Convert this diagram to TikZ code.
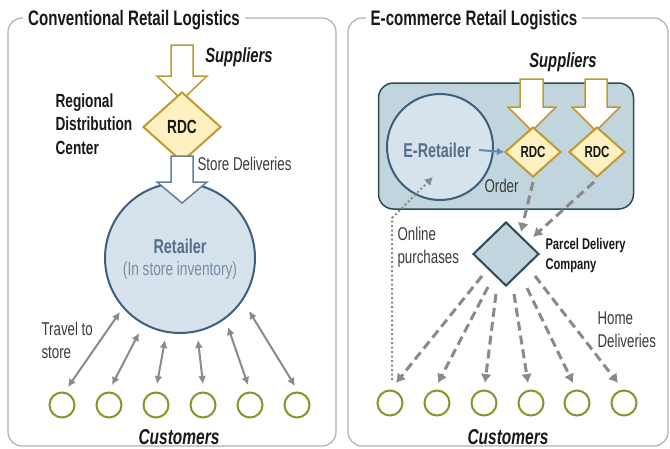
\documentclass[tikz,border=0pt]{standalone}
\usepackage{fontspec}
\setmainfont{Liberation Sans}[FakeStretch=0.72]
\usetikzlibrary{shapes.geometric,arrows.meta}
\definecolor{gold}{HTML}{C09A30}
\definecolor{goldfill}{HTML}{FFF0C2}
\definecolor{steel}{HTML}{3F5F7F}
\definecolor{steelfill}{HTML}{D6E2EC}
\definecolor{boxfill}{HTML}{C0D5DD}
\definecolor{boxedge}{HTML}{2F4A55}
\definecolor{olive}{HTML}{7F9A2A}
\definecolor{arrgray}{HTML}{8A8A8A}
\definecolor{txtgray}{HTML}{3A3A3A}
\definecolor{orderblue}{HTML}{5A8AB5}
\tikzset{
  panel/.style={draw=black!30, line width=1.2pt, rounded corners=14pt},
  paneltitle/.style={fill=white, font=\bfseries\fontsize{21}{24}\selectfont, text=black!90, inner xsep=5pt, inner ysep=1pt},
  heading/.style={font=\bfseries\itshape\fontsize{20.5}{24}\selectfont, text=black!90},
  lbl/.style={font=\fontsize{18.5}{23}\selectfont, text=txtgray, align=left},
  blbl/.style={font=\bfseries\fontsize{19}{23.5}\selectfont, text=black!90, align=left},
  rdc/.style={diamond, draw=gold, fill=goldfill, line width=2pt, minimum width=78pt, minimum height=70pt, inner sep=0pt, font=\bfseries\fontsize{19}{22}\selectfont, text=black!90},
  rdcs/.style={diamond, draw=gold, fill=goldfill, line width=2pt, minimum width=56pt, minimum height=50pt, inner sep=0pt, font=\bfseries\fontsize{16}{18}\selectfont, text=black!90},
  bigcirc/.style={circle, draw=steel, fill=steelfill, line width=2pt, inner sep=0pt},
  cust/.style={circle, draw=olive, fill=white, line width=2pt, minimum size=25pt, inner sep=0pt},
  supply/.style={draw=gold, fill=white, line width=1.5pt, line join=miter},
  deliv/.style={draw=steel!80, fill=white, line width=1.5pt, line join=miter},
  twoway/.style={draw=arrgray, line width=2pt, {Latex[length=8pt,width=8pt]}-{Latex[length=8pt,width=8pt]}},
  dashar/.style={draw=arrgray, line width=3pt, dash pattern=on 9pt off 5pt, -{Latex[length=9pt,width=11pt]}},
  dotar/.style={draw=arrgray, line width=2pt, dash pattern=on 2pt off 2.5pt, -{Latex[length=8pt,width=9pt]}},
}
\begin{document}
\begin{tikzpicture}[x=1pt,y=-1pt]
\useasboundingbox (0,0) rectangle (670,448);
\fill[white] (0,0) rectangle (670,448);
% panels
\draw[panel] (8,18) rectangle (336,446);
\draw[panel] (348,18) rectangle (668,446);
\node[paneltitle] (t1) at (134,20) {Conventional Retail Logistics};
\node[paneltitle] (t2) at (474,20) {E-commerce Retail Logistics};

% ---------- left panel ----------
\node[heading] (sup1) at (239,57) {Suppliers};
\draw[supply] (171,45) -- (193,45) -- (193,76) -- (207,76) -- (182,100) -- (157,76) -- (171,76) -- cycle;
\node[rdc] (rdc1) at (182,127) {RDC};
\node[blbl, anchor=west] (rdclbl) at (52,124) {Regional\\Distribution\\Center};
\node[bigcirc, minimum size=150pt] (ret) at (180,258) {};
\draw[deliv] (171,156) -- (193,156) -- (193,182) -- (207,182) -- (182,203) -- (157,182) -- (171,182) -- cycle;
\node[lbl, anchor=west] (sd) at (194,164) {Store Deliveries};
\node[font=\bfseries\fontsize{20}{24}\selectfont, text=steel!90] (retl) at (180,246) {Retailer};
\node[font=\fontsize{19}{23}\selectfont, text=steel!70] (retl2) at (180,271) {(In store inventory)};
\node[lbl, anchor=west] (travel) at (38,340) {Travel to\\store};
\foreach \i/\x in {1/62,2/109,3/156,4/203,5/250,6/297}{
  \node[cust] (c\i) at (\x,405) {};
}
\coordinate (r1) at (120,312);
\coordinate (r2) at (139,333);
\coordinate (r3) at (165,340);
\coordinate (r4) at (198,340);
\coordinate (r5) at (228,327);
\coordinate (r6) at (249,311);
\coordinate (e1) at (68,387);
\coordinate (e2) at (112,385);
\coordinate (e3) at (157,384);
\coordinate (e4) at (203,384);
\coordinate (e5) at (248,385);
\coordinate (e6) at (295,386);
\foreach \i in {1,...,6}{ \draw[twoway] (e\i) -- (r\i); }
\node[heading, font=\bfseries\itshape\fontsize{21.5}{24}\selectfont] (cust1) at (179,437) {Customers};

% ---------- right panel ----------
\node[draw=boxedge, fill=boxfill, line width=1.5pt, rounded corners=15pt, minimum width=255pt, minimum height=126pt] (ebox) at (506,146) {};
\node[bigcirc, minimum size=106pt] (eret) at (440,147) {};
\node[font=\bfseries\fontsize{20}{24}\selectfont, text=steel!90] (eretl) at (437,150) {E-Retailer};
\node[heading] (sup2) at (563,62) {Suppliers};
\draw[supply] (520,79) -- (543,79) -- (543,107) -- (556,107) -- (532,131) -- (508,107) -- (520,107) -- cycle;
\draw[supply] (585,79) -- (607,79) -- (607,107) -- (620,107) -- (596,131) -- (572,107) -- (585,107) -- cycle;
\node[rdcs] (rdc2) at (533,152) {RDC};
\node[rdcs] (rdc3) at (597,152) {RDC};
\coordinate (ordS) at (479,150);
\draw[draw=orderblue, line width=2pt, -{Latex[length=7pt,width=8pt]}] (ordS) -- (rdc2.west);
\node[lbl, anchor=west] (ord) at (481,186) {Order};
\node[diamond, draw=boxedge, fill=boxfill, line width=2pt, minimum width=66pt, minimum height=64pt, inner sep=0pt] (pdc) at (506,254) {};
\node[blbl, font=\bfseries\fontsize{15.5}{20}\selectfont, anchor=west] (pdcl) at (542,255) {Parcel Delivery\\Company};
\coordinate (pa) at (521,232);
\coordinate (pb) at (533,237);
\draw[dashar] (rdc2.south) ++(0,4) -- (pa);
\draw[dashar] (rdc3.south) ++(-3,4) -- (pb);
\foreach \i/\x in {1/390,2/437,3/484,4/531,5/577,6/624}{
  \node[cust] (d\i) at (\x,403) {};
}
\coordinate (s1) at (482,276);
\coordinate (s2) at (488,287);
\coordinate (s3) at (496,294);
\coordinate (s4) at (514,294);
\coordinate (s5) at (527,288);
\coordinate (s6) at (535,276);
\coordinate (f1) at (396,383);
\coordinate (f2) at (438,383);
\coordinate (f3) at (485,383);
\coordinate (f4) at (528,383);
\coordinate (f5) at (573,383);
\coordinate (f6) at (618,383);
\foreach \i in {1,...,6}{ \draw[dashar] (s\i) -- (f\i); }
\coordinate (ob) at (392,380);
\coordinate (om) at (392,218);
\coordinate (ot) at (433,177);
\draw[dotar] (ob) -- (om) -- (ot);
\node[lbl, anchor=west] (onl) at (394,247) {Online\\purchases};
\node[lbl, anchor=west] (home) at (594,330) {Home\\Deliveries};
\node[heading, font=\bfseries\itshape\fontsize{21.5}{24}\selectfont] (cust2) at (508,437) {Customers};
\end{tikzpicture}
\end{document}
